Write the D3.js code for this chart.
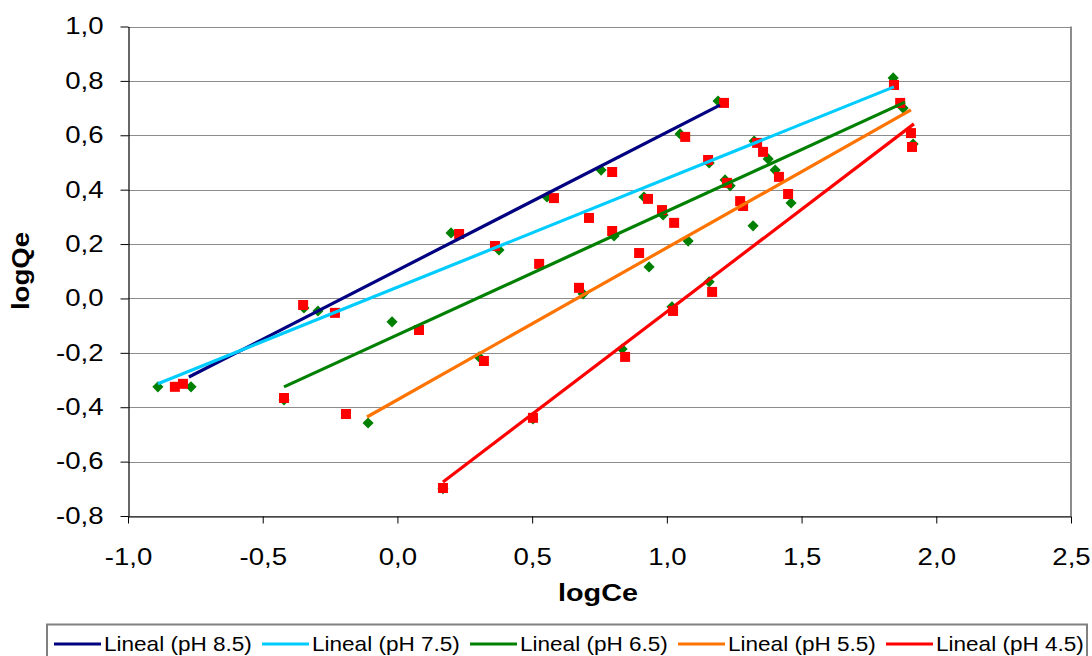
<!DOCTYPE html>
<html>
<head>
<meta charset="utf-8">
<script src="https://cdn.jsdelivr.net/npm/d3@7/dist/d3.min.js"></script>
<style>
  body { margin: 0; background: #fff; }
  svg text { font-family: Arial, "Liberation Sans", sans-serif; fill: #000; }
</style>
</head>
<body>
<div id="chart"></div>
<script>
// series: [logCe, logQe]
const seriesNames = ['pH 8.5', 'pH 7.5', 'pH 6.5', 'pH 5.5', 'pH 4.5'];

const diamonds85 = [[-0.766, -0.325], [-0.347, -0.035], [-0.295, -0.046], [0.199, 0.241], [0.756, 0.472], [1.049, 0.605], [1.190, 0.726]];
const squares85 = [[-0.796, -0.314], [-0.350, -0.024], [0.229, 0.237], [0.797, 0.465], [1.068, 0.594], [1.212, 0.719]];

const diamonds75 = [[-0.889, -0.325], [0.377, 0.178], [0.555, 0.373], [1.157, 0.498], [1.324, 0.579], [1.840, 0.811]];
const squares75 = [[-0.826, -0.325], [-0.232, -0.053], [0.362, 0.193], [0.581, 0.369], [0.711, 0.296], [1.153, 0.509], [1.335, 0.572], [1.843, 0.785]];

const diamonds65 = [[-0.421, -0.373], [-0.020, -0.086], [0.804, 0.230], [0.915, 0.373], [0.986, 0.307], [1.216, 0.436], [1.235, 0.414], [1.376, 0.513], [1.402, 0.472], [1.877, 0.700]];
const squares65 = [[-0.421, -0.366], [0.080, -0.116], [0.526, 0.127], [0.797, 0.248], [0.930, 0.366], [0.982, 0.325], [1.027, 0.278], [1.223, 0.425], [1.357, 0.539], [1.416, 0.447], [1.866, 0.719]];

const diamonds55 = [[-0.109, -0.458], [0.303, -0.215], [0.689, 0.017], [0.934, 0.116], [1.079, 0.211], [1.320, 0.267], [1.461, 0.351]];
const squares55 = [[-0.191, -0.425], [0.321, -0.230], [0.674, 0.039], [0.897, 0.167], [1.272, 0.358], [1.283, 0.340], [1.450, 0.384], [1.906, 0.608]];

const diamonds45 = [[0.169, -0.700], [0.503, -0.443], [0.834, -0.186], [1.019, -0.031], [1.157, 0.061], [1.914, 0.568]];
const squares45 = [[0.169, -0.697], [0.503, -0.439], [0.845, -0.215], [1.023, -0.046], [1.168, 0.024], [1.910, 0.557]];

// linear trend lines (Lineal), as drawn
const trendSlope = [0.5074, 0.3997, 0.4542, 0.5592, 0.7534];
const trendIntercept = [0.1037, 0.0413, -0.1338, -0.3728, -0.8023];
const trendFrom = [-0.774, -0.889, -0.421, -0.113, 0.169];
const trendTo = [1.197, 1.843, 1.884, 1.906, 1.917];

const xTicks = [-1.0, -0.5, 0.0, 0.5, 1.0, 1.5, 2.0, 2.5];
const yTicks = [-0.8, -0.6, -0.4, -0.2, 0.0, 0.2, 0.4, 0.6, 0.8, 1.0];

const xTitle = 'logCe';
const yTitle = 'logQe';

const allDiamonds = [diamonds85, diamonds75, diamonds65, diamonds55, diamonds45];
const allSquares = [squares85, squares75, squares65, squares55, squares45];
const lineColors = ['#000080', '#00ccff', '#008000', '#ff7300', '#ff0000'];

const width = 1092, height = 656;
const SX = 1.2; // text in the reference is drawn wide

const x = d3.scaleLinear().domain([-1, 2.5]).range([128, 1071]);
const y = d3.scaleLinear().domain([-0.8, 1.0]).range([516, 26.5]);

const fmt = d3.formatLocale({decimal: ',', thousands: '.', grouping: [3], currency: ['', ''], minus: '-'}).format('.1f');

const svg = d3.select('#chart').append('svg')
  .attr('width', width)
  .attr('height', height);

// gridlines
svg.append('g').selectAll('line')
  .data(yTicks)
  .enter().append('line')
  .attr('x1', x(-1)).attr('x2', x(2.5))
  .attr('y1', d => Math.round(y(d)) + 0.5)
  .attr('y2', d => Math.round(y(d)) + 0.5)
  .attr('stroke', '#8c8c8c')
  .attr('stroke-width', 1);

// plot frame right
svg.append('line')
  .attr('x1', x(2.5)).attr('x2', x(2.5))
  .attr('y1', y(1)).attr('y2', y(-0.8))
  .attr('stroke', '#8c8c8c').attr('stroke-width', 2);

// axes
const yAxis = svg.append('g')
  .attr('transform', 'translate(' + (x(-1) + 0.5) + ',0)')
  .call(d3.axisLeft(y).tickValues(yTicks).tickFormat(fmt).tickSize(8).tickSizeOuter(0));
yAxis.selectAll('text')
  .attr('x', -25 / SX)
  .attr('transform', 'scale(' + SX + ',1)')
  .style('font-size', '23px');

const xAxis = svg.append('g')
  .attr('transform', 'translate(0,' + (Math.round(y(-0.8)) + 0.5) + ')')
  .call(d3.axisBottom(x).tickValues(xTicks).tickFormat(fmt).tickSize(7).tickSizeOuter(0));
xAxis.selectAll('text')
  .attr('y', 32)
  .attr('transform', 'scale(' + SX + ',1)')
  .attr('x', 0)
  .style('font-size', '23px');
svg.selectAll('.domain').attr('stroke', '#000').attr('stroke-width', 1.2);
svg.selectAll('.tick line').attr('stroke', '#000');

// markers: green diamonds, then red squares
const diamond = d3.symbol().type(d3.symbolSquare).size(62);
const square = d3.symbol().type(d3.symbolSquare).size(100);

allDiamonds.forEach(pts => {
  svg.append('g').selectAll('path')
    .data(pts)
    .enter().append('path')
    .attr('d', diamond)
    .attr('transform', d => 'translate(' + x(d[0]) + ',' + y(d[1]) + ') rotate(45)')
    .attr('fill', '#008000');
});
allSquares.forEach(pts => {
  svg.append('g').selectAll('path')
    .data(pts)
    .enter().append('path')
    .attr('d', square)
    .attr('transform', d => 'translate(' + x(d[0]) + ',' + y(d[1]) + ')')
    .attr('fill', '#ff0000');
});

// trend lines on top
const line = d3.line().x(d => x(d[0])).y(d => y(d[1]));
seriesNames.forEach((name, i) => {
  const ends = [trendFrom[i], trendTo[i]].map(v => [v, trendSlope[i] * v + trendIntercept[i]]);
  svg.append('path')
    .datum(ends)
    .attr('d', line)
    .attr('fill', 'none')
    .attr('stroke', lineColors[i])
    .attr('stroke-width', 3.2);
});

// axis titles
svg.append('text')
  .attr('transform', 'translate(598,601) scale(' + SX + ',1)')
  .attr('text-anchor', 'middle')
  .style('font-size', '24px')
  .style('font-weight', 'bold')
  .text(xTitle);

svg.append('text')
  .attr('transform', 'translate(29,271) rotate(-90) scale(' + SX + ',1)')
  .attr('text-anchor', 'middle')
  .style('font-size', '23px')
  .style('font-weight', 'bold')
  .text(yTitle);

// legend
const legend = svg.append('g');
legend.append('rect')
  .attr('x', 47).attr('y', 624.5)
  .attr('width', 1040).attr('height', 50)
  .attr('fill', '#fff')
  .attr('stroke', '#808080')
  .attr('stroke-width', 2);

const item = legend.selectAll('.item')
  .data(seriesNames)
  .enter().append('g')
  .attr('class', 'item')
  .attr('transform', (d, i) => 'translate(' + (54 + i * 208) + ',644)');
item.append('line')
  .attr('x1', 0).attr('x2', 47)
  .attr('stroke', (d, i) => lineColors[i])
  .attr('stroke-width', 3);
item.append('text')
  .attr('transform', 'translate(50,7) scale(1.1,1)')
  .style('font-size', '20.5px')
  .text(d => 'Lineal (' + d + ')');
</script>
</body>
</html>
